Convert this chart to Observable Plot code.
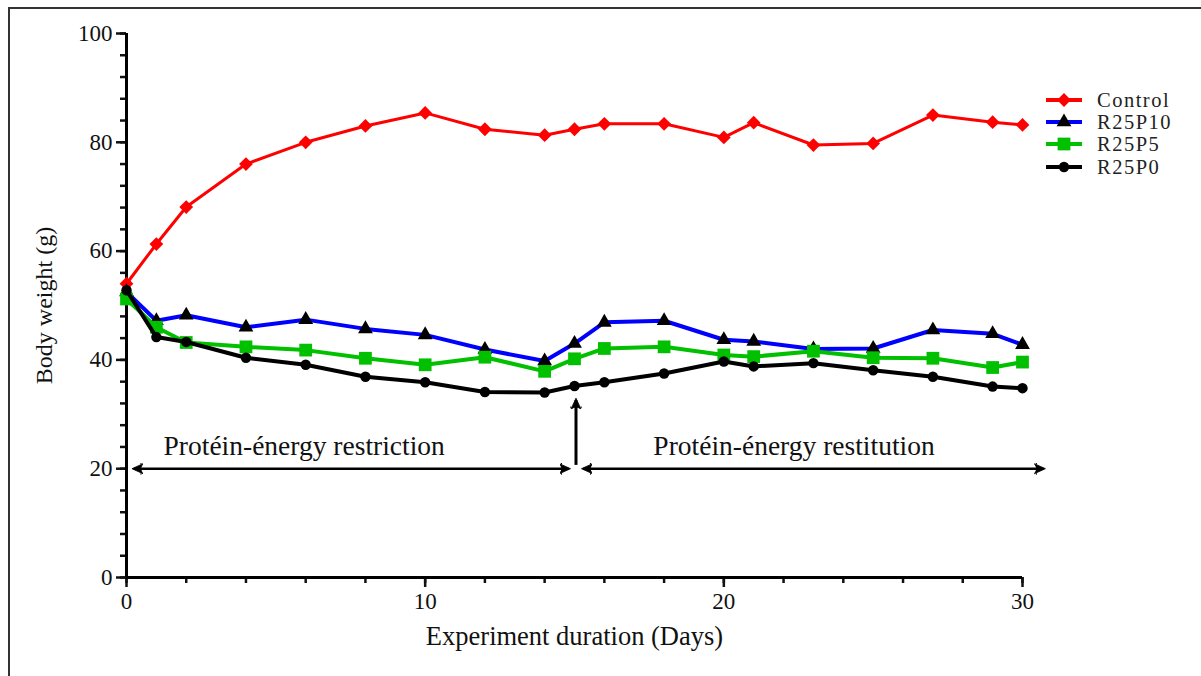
<!DOCTYPE html>
<html>
<head>
<meta charset="utf-8">
<script src="https://cdn.jsdelivr.net/npm/d3@7"></script>
<script src="https://cdn.jsdelivr.net/npm/@observablehq/plot@0.6"></script>
<style>
  html, body { margin: 0; padding: 0; background: #fff; }
  #wrap { position: relative; width: 1201px; height: 676px; overflow: hidden; font-family: "Liberation Serif", "Times New Roman", serif; }
  #frameL { position: absolute; left: 8px; top: 7px; width: 1.5px; height: 680px; background: #333; }
  #frameT { position: absolute; left: 8px; top: 7px; width: 1200px; height: 1.5px; background: #333; }
  #legend { position: absolute; left: 1046px; top: 89px; font-size: 20.5px; letter-spacing: 1.5px; color: #222; }
  #legend .row { display: flex; align-items: center; height: 22.2px; line-height: 22px; }
  #legend svg { display: block; margin-right: 15px; overflow: visible; }
</style>
</head>
<body>
<div id="wrap">
  <div id="chart"></div>
  <div id="frameL"></div>
  <div id="frameT"></div>
  <div id="legend"></div>
</div>
<script>
// ---- data ----
const days = [0, 1, 2, 4, 6, 8, 10, 12, 14, 15, 16, 18, 20, 21, 23, 25, 27, 29, 30];
const control = [54, 61.3, 68.1, 76, 80, 83, 85.4, 82.4, 81.3, 82.4, 83.4, 83.4, 80.9, 83.6, 79.5, 79.8, 85, 83.7, 83.2];
const r25p10  = [52.5, 47.2, 48.2, 46, 47.4, 45.7, 44.6, 41.9, 39.8, 43, 46.9, 47.2, 43.7, 43.4, 42, 42.1, 45.5, 44.8, 42.8];
const r25p5   = [51.2, 46, 43.2, 42.4, 41.8, 40.3, 39.1, 40.5, 37.9, 40.2, 42.1, 42.4, 40.9, 40.6, 41.6, 40.4, 40.3, 38.6, 39.6];
const r25p0   = [52.8, 44.2, 43.3, 40.4, 39.1, 36.9, 35.9, 34.1, 34, 35.2, 35.9, 37.5, 39.7, 38.8, 39.4, 38.1, 36.9, 35.1, 34.8];

const seriesNames = ["Control", "R25P10", "R25P5", "R25P0"];
const seriesValues = [control, r25p10, r25p5, r25p0];
const seriesColors = ["#ff0000", "#0000ff", "#00c000", "#000000"];
const markerFills = ["#ff0000", "#000000", "#00c000", "#000000"];
const markerSymbols = ["diamond2", "triangle", "square", "circle"];

const xMajorTicks = [0, 10, 20, 30];
const xMinorTicks = d3.range(0, 31, 2);
const yMajorTicks = [0, 20, 40, 60, 80, 100];
const yMinorTicks = d3.range(0, 101, 4);

// annotations (data coordinates)
const phaseArrows = [
  {x1: 0.25, x2: 14.8, y: 20},
  {x1: 15.3, x2: 30.7, y: 20}
];
const switchArrow = [{x: 15.05, y1: 20.7, y2: 32.6}];
const phaseLabels = [
  {x: 5.95, y: 24.1, text: "Protéin-énergy restriction"},
  {x: 22.35, y: 24.1, text: "Protéin-énergy restitution"}
];

// ---- build ----
const rows = seriesNames.map((name, i) => days.map((d, j) => ({series: name, day: d, value: seriesValues[i][j]})));

function headMarker(color) {
  const m = d3.create("svg:marker")
    .attr("viewBox", "-9 -6 12 12")
    .attr("markerWidth", 12)
    .attr("markerHeight", 12)
    .attr("markerUnits", "userSpaceOnUse")
    .attr("orient", "auto-start-reverse")
    .attr("refX", 0).attr("refY", 0);
  m.append("path").attr("d", "M-9,-5L2,0L-9,5L-6,0Z").attr("fill", color).attr("stroke", color).attr("stroke-width", 0.8);
  m.append("path").attr("d", "M-7,-6V6").attr("stroke", color).attr("stroke-width", 1).attr("stroke-dasharray", "1.5,2");
  return m.node();
}

const marks = [
  Plot.axisX({ticks: xMinorTicks, tickSize: 6, tickFormat: () => "", strokeWidth: 2.5, label: null}),
  Plot.axisX({ticks: xMajorTicks, tickSize: 10, tickPadding: 5, fontSize: 23, strokeWidth: 2.5, label: null}),
  Plot.axisY({ticks: yMinorTicks, tickSize: 6, tickFormat: () => "", strokeWidth: 2.5, label: null}),
  Plot.axisY({ticks: yMajorTicks, tickSize: 10, tickPadding: 4, fontSize: 23, strokeWidth: 2.5, label: null}),
  Plot.axisX({ticks: [], tickSize: 0, fontSize: 26.5, label: "Experiment duration (Days)",
    labelAnchor: "center", labelOffset: 67, labelArrow: "none"}),
  Plot.axisY({ticks: [], tickSize: 0, fontSize: 24, label: "Body weight (g)",
    labelAnchor: "center", labelOffset: 92, labelArrow: "none"}),
  Plot.ruleX([0], {y1: 0, y2: 100, strokeWidth: 3, stroke: "#000"}),
  Plot.ruleY([0], {x1: 0, x2: 30, strokeWidth: 3, stroke: "#000"}),
];

rows.forEach((r, i) => {
  marks.push(Plot.line(r, {x: "day", y: "value", stroke: seriesColors[i], strokeWidth: i === 0 ? 3 : 4}));
  marks.push(Plot.dot(r, {x: "day", y: "value", symbol: markerSymbols[i], fill: markerFills[i],
    r: [6.2, 5.5, 7.2, 5.2][i], stroke: "none"}));
});

marks.push(
  Plot.link(phaseArrows, {x1: "x1", x2: "x2", y1: "y", y2: "y", stroke: "#000", strokeWidth: 2.5,
    markerStart: headMarker, markerEnd: headMarker}),
  Plot.link(switchArrow, {x1: "x", x2: "x", y1: "y1", y2: "y2", stroke: "#000", strokeWidth: 3,
    markerEnd: headMarker}),
  Plot.text(phaseLabels, {x: "x", y: "y", text: "text", fontSize: 27.5, fill: "#111", textAnchor: "middle"})
);

const chart = Plot.plot({
  width: 1201,
  height: 676,
  marginLeft: 126,
  marginRight: 179,
  marginTop: 33,
  marginBottom: 99,
  x: {domain: [0, 30], axis: null},
  y: {domain: [0, 100], axis: null},
  style: {fontFamily: "'Liberation Serif', 'Times New Roman', serif", background: "transparent", color: "#111", overflow: "visible"},
  marks
});
document.getElementById("chart").append(chart);

// ---- legend ----
const legend = d3.select("#legend");
seriesNames.forEach((name, i) => {
  const row = legend.append("div").attr("class", "row");
  const svg = row.append("svg").attr("width", 36).attr("height", 22);
  svg.append("line").attr("x1", 0).attr("x2", 36).attr("y1", 11).attr("y2", 11)
    .attr("stroke", seriesColors[i]).attr("stroke-width", 4);
  const symMap = {diamond2: d3.symbolDiamond2, triangle: d3.symbolTriangle, square: d3.symbolSquare, circle: d3.symbolCircle};
  const rr = [6.2, 5.5, 7.2, 5.2][i];
  svg.append("path").attr("transform", "translate(18,11)")
    .attr("d", d3.symbol(symMap[markerSymbols[i]], Math.PI * rr * rr)())
    .attr("fill", markerFills[i]);
  row.append("span").text(name);
});
</script>
</body>
</html>
